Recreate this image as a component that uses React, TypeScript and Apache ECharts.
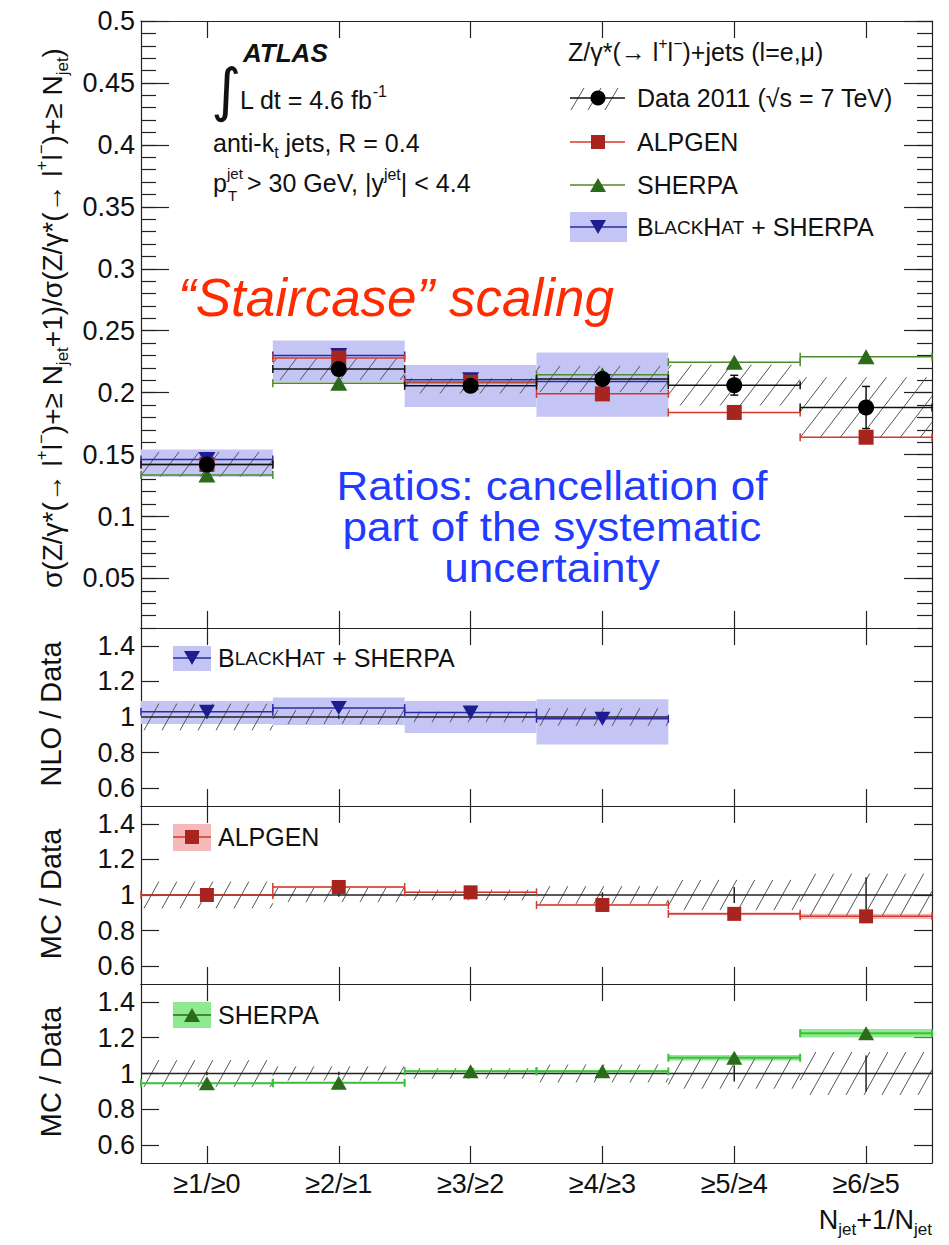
import React, { useEffect, useRef } from "react";
import * as echarts from "echarts";

// ---------------- data ----------------
const bins = ["≥1/≥0", "≥2/≥1", "≥3/≥2", "≥4/≥3", "≥5/≥4", "≥6/≥5"];

// main panel: cross-section ratios
const dataVal = [0.142, 0.219, 0.2055, 0.211, 0.206, 0.188];
const dataStatErr = [0.002, 0.002, 0.002, 0.003, 0.008, 0.017];
const dataSystRel = [0.07, 0.04, 0.03, 0.05, 0.08, 0.13];
const alpgenVal = [0.142, 0.228, 0.2085, 0.199, 0.184, 0.164];
const sherpaVal = [0.1335, 0.2075, 0.208, 0.2145, 0.2245, 0.229];
const blackhatVal = [0.146, 0.23, 0.2105, 0.209];
const blackhatLo = [0.132, 0.2086, 0.1884, 0.1806];
const blackhatHi = [0.154, 0.242, 0.2223, 0.2323];

// ratio panels
const nloRatio = [1.03, 1.05, 1.025, 0.99];
const nloRatioLo = [0.96, 0.955, 0.91, 0.845];
const nloRatioHi = [1.09, 1.11, 1.09, 1.1];
const alpgenRatio = [1.0, 1.045, 1.015, 0.944, 0.894, 0.88];
const alpgenRatioErr = [0.004, 0.004, 0.004, 0.005, 0.008, 0.015];
const sherpaRatio = [0.945, 0.948, 1.013, 1.012, 1.088, 1.225];
const sherpaRatioErr = [0.004, 0.004, 0.005, 0.006, 0.016, 0.024];
const dataRatioSyst = [0.075, 0.04, 0.03, 0.05, 0.085, 0.12];
const dataRatioStat = [0.01, 0.01, 0.012, 0.015, 0.045, 0.1];

// tick labels
const mainTicks = [0.05, 0.1, 0.15, 0.2, 0.25, 0.3, 0.35, 0.4, 0.45, 0.5];
const ratioTicks = [0.6, 0.8, 1, 1.2, 1.4];

// ---------------- style ----------------
const FONT = "'Liberation Sans', Arial, Helvetica, sans-serif";
const AX = "#222";
const TXT = "#111";
const BAND_BLUE = "#c5c5f5";
const BH_LINE = "#2a2aa6";
const BH_MARK = "#1d1d8f";
const AL_LINE = "#d33a2c";
const AL_MARK = "#a8251f";
const AL_BAND = "#f5b9b9";
const SH_LINE_MAIN = "#4d8a2e";
const SH_LINE_RATIO = "#3cc03c";
const SH_MARK = "#2b6b1b";
const SH_BAND = "#8fe98f";
const HATCH = "#555";

const grids = [
  { left: 141, top: 21, width: 791, height: 607 },
  { left: 141, top: 628, width: 791, height: 178 },
  { left: 141, top: 806, width: 791, height: 178 },
  { left: 141, top: 984, width: 791, height: 179 },
];

const fmt = (v: number) => String(parseFloat(Number(v).toFixed(3)));

function minorTicks(): number[] {
  const out: number[] = [];
  for (let k = 1; k <= 50; k++) out.push(parseFloat((k * 0.01).toFixed(2)));
  return out;
}

// ---------- custom renderers ----------
function hLineRender(color: string, width: number, caps: number) {
  return (_p: any, api: any) => {
    const i = api.value(0);
    const v = api.value(1);
    const c = api.coord([i, v]);
    const w = api.size([1, 0])[0];
    const x0 = c[0] - w / 2;
    const x1 = c[0] + w / 2;
    const st = { stroke: color, lineWidth: width };
    const children: any[] = [
      { type: "line", shape: { x1: x0, y1: c[1], x2: x1, y2: c[1] }, style: st },
    ];
    if (caps > 0) {
      children.push({ type: "line", shape: { x1: x0, y1: c[1] - caps, x2: x0, y2: c[1] + caps }, style: st });
      children.push({ type: "line", shape: { x1: x1, y1: c[1] - caps, x2: x1, y2: c[1] + caps }, style: st });
    }
    return { type: "group", children };
  };
}

function bandRender(fill: string) {
  return (_p: any, api: any) => {
    const i = api.value(0);
    const a = api.coord([i, api.value(2)]);
    const b = api.coord([i, api.value(1)]);
    const w = api.size([1, 0])[0];
    return {
      type: "rect",
      shape: { x: a[0] - w / 2, y: a[1], width: w, height: b[1] - a[1] },
      style: { fill },
    };
  };
}

function hatchRender(step: number, k: number) {
  return (_p: any, api: any) => {
    const i = api.value(0);
    const top = api.coord([i, api.value(2)]);
    const bot = api.coord([i, api.value(1)]);
    const w = api.size([1, 0])[0];
    const x0 = top[0] - w / 2;
    const x1 = top[0] + w / 2;
    const y0 = top[1];
    const y1 = bot[1];
    const h = y1 - y0;
    const children: any[] = [];
    const start = Math.ceil((x0 - h / k) / step) * step;
    for (let xc = start; xc <= x1; xc += step) {
      const ya = Math.max(y0, y1 - k * (x1 - xc));
      const yb = Math.min(y1, y1 - k * (x0 - xc));
      if (yb - ya > 0.5) {
        children.push({
          type: "line",
          shape: { x1: xc + (y1 - ya) / k, y1: ya, x2: xc + (y1 - yb) / k, y2: yb },
          style: { stroke: HATCH, lineWidth: 1 },
        });
      }
    }
    return { type: "group", children };
  };
}

function vBarRender(color: string, caps: number) {
  return (_p: any, api: any) => {
    const i = api.value(0);
    const v = api.value(1);
    const e = api.value(2);
    const a = api.coord([i, v + e]);
    const b = api.coord([i, v - e]);
    const st = { stroke: color, lineWidth: 1.5 };
    const children: any[] = [{ type: "line", shape: { x1: a[0], y1: a[1], x2: b[0], y2: b[1] }, style: st }];
    if (caps > 0) {
      children.push({ type: "line", shape: { x1: a[0] - caps, y1: a[1], x2: a[0] + caps, y2: a[1] }, style: st });
      children.push({ type: "line", shape: { x1: b[0] - caps, y1: b[1], x2: b[0] + caps, y2: b[1] }, style: st });
    }
    return { type: "group", children };
  };
}

const onGrid = (g: number) => ({ xAxisIndex: 2 * g, yAxisIndex: 2 * g });

function hline(g: number, vals: number[], color: string, width: number, caps: number, z: number) {
  return { type: "custom", ...onGrid(g), z, data: vals.map((v, i) => [i, v]), renderItem: hLineRender(color, width, caps) };
}
function band(g: number, lo: number[], hi: number[], fill: string, z: number) {
  return { type: "custom", ...onGrid(g), z, data: lo.map((l, i) => [i, l, hi[i]]), renderItem: bandRender(fill) };
}
function hatch(g: number, lo: number[], hi: number[], z: number, k = 1.4, step = 20) {
  return { type: "custom", ...onGrid(g), z, data: lo.map((l, i) => [i, l, hi[i]]), renderItem: hatchRender(step, k) };
}
function vbar(g: number, vals: number[], errs: number[], color: string, caps: number, z: number) {
  return { type: "custom", ...onGrid(g), z, data: vals.map((v, i) => [i, v, errs[i]]), renderItem: vBarRender(color, caps) };
}
function markers(g: number, vals: number[], symbol: string, size: any, color: string, z: number, rotate = 0) {
  return {
    type: "scatter",
    ...onGrid(g),
    z,
    symbol,
    symbolSize: size,
    symbolRotate: rotate,
    itemStyle: { color, opacity: 1 },
    data: vals.map((v, i) => [i, v]),
  };
}

// ---------- rich text helpers ----------
function rich(size: number, color = TXT) {
  const s = Math.round(size * 0.62);
  return {
    n: { fontSize: size, fontFamily: FONT, fill: color, color, lineHeight: Math.round(size * 1.35) },
    s: { fontSize: Math.round(size * 0.76), fontFamily: FONT, fill: color, color, lineHeight: Math.round(size * 1.35) },
    sup: { fontSize: s, fontFamily: FONT, fill: color, color, verticalAlign: "top", lineHeight: s },
    sub: { fontSize: s, fontFamily: FONT, fill: color, color, verticalAlign: "bottom", lineHeight: s },
  };
}

function text(x: number, y: number, txt: string, size: number, extra: any = {}, el: any = {}) {
  return {
    type: "text",
    x,
    y,
    z: 100,
    ...el,
    style: {
      text: txt,
      fontSize: size,
      fontFamily: FONT,
      fill: TXT,
      align: "left",
      verticalAlign: "middle",
      textAlign: "left",
      textVerticalAlign: "middle",
      ...extra,
    },
  };
}

function richText(x: number, y: number, txt: string, size: number, align = "left", el: any = {}, color = TXT) {
  return {
    type: "text",
    x,
    y,
    z: 100,
    ...el,
    style: {
      text: txt,
      rich: rich(size, color),
      fontSize: size,
      fontFamily: FONT,
      fill: color,
      align,
      verticalAlign: "middle",
      textAlign: align,
      textVerticalAlign: "middle",
    },
  };
}

const lineEl = (x1: number, y1: number, x2: number, y2: number, stroke: string, lineWidth = 1.5) => ({
  type: "line",
  z: 100,
  shape: { x1, y1, x2, y2 },
  style: { stroke, lineWidth },
});
const rectEl = (x: number, y: number, w: number, h: number, fill: string) => ({
  type: "rect",
  z: 99,
  shape: { x, y, width: w, height: h },
  style: { fill },
});
const triEl = (cx: number, cy: number, fill: string, down = false) => ({
  type: "polygon",
  z: 101,
  shape: {
    points: down
      ? [[cx - 8, cy - 7], [cx + 8, cy - 7], [cx, cy + 7]]
      : [[cx - 8, cy + 7], [cx + 8, cy + 7], [cx, cy - 7]],
  },
  style: { fill },
});

const BH_TEXT = "{n|B}{s|LACK}{n|H}{s|AT}{n| + SHERPA}";

function buildOption(): any {
  const xAxis: any[] = [];
  const yAxis: any[] = [];
  grids.forEach((_, g) => {
    const base = {
      type: "category",
      gridIndex: g,
      data: bins,
      boundaryGap: true,
      axisLine: { show: true, onZero: false, lineStyle: { color: AX, width: 1.2 } },
      axisTick: { show: true, inside: true, alignWithLabel: true, length: 17, lineStyle: { color: AX, width: 1.2 } },
      splitLine: { show: false },
    };
    xAxis.push({
      ...base,
      position: "bottom",
      axisLabel:
        g === 3
          ? { show: true, margin: 7, fontSize: 27, color: TXT, fontFamily: FONT }
          : { show: false },
    });
    xAxis.push({ ...base, position: "top", axisLabel: { show: false } });
  });

  const lab = { margin: 6, fontSize: 27, color: TXT, fontFamily: FONT, formatter: fmt };
  grids.forEach((_, g) => {
    const isMain = g === 0;
    const ticks = isMain ? mainTicks : ratioTicks;
    const base = {
      type: "value",
      gridIndex: g,
      min: isMain ? 0.01 : 0.5,
      max: isMain ? 0.5 : 1.5,
      axisLine: { show: true, lineStyle: { color: AX, width: 1.2 } },
      axisTick: { show: true, inside: true, length: isMain ? 28 : 18, customValues: ticks, lineStyle: { color: AX, width: 1.2 } },
      splitLine: { show: false },
    };
    yAxis.push({ ...base, position: "left", axisLabel: { show: true, customValues: ticks, ...lab } });
    yAxis.push({ ...base, position: "right", axisLabel: { show: false } });
  });
  const minor = minorTicks();
  ["left", "right"].forEach((pos) => {
    yAxis.push({
      type: "value",
      gridIndex: 0,
      min: 0.01,
      max: 0.5,
      position: pos,
      axisLine: { show: false },
      axisTick: { show: true, inside: true, length: 15, customValues: minor, lineStyle: { color: AX, width: 1.2 } },
      axisLabel: { show: false },
      splitLine: { show: false },
    });
  });

  const idx4 = [0, 1, 2, 3];
  const ones = bins.map(() => 1);

  const series: any[] = [
    // main panel
    band(0, blackhatLo, blackhatHi, BAND_BLUE, 1),
    hatch(0, dataVal.map((v, i) => v * (1 - dataSystRel[i])), dataVal.map((v, i) => v * (1 + dataSystRel[i])), 2, 1.3, 20),
    hline(0, blackhatVal, BH_LINE, 1.5, 4, 3),
    hline(0, sherpaVal, SH_LINE_MAIN, 1.5, 4, 3),
    hline(0, alpgenVal, AL_LINE, 1.5, 4, 3),
    hline(0, dataVal, "#111", 1.5, 4, 3),
    vbar(0, dataVal, dataStatErr, "#111", 4, 3),
    markers(0, blackhatVal, "triangle", [17, 15], BH_MARK, 4, 180),
    markers(0, alpgenVal, "rect", 15, AL_MARK, 5),
    markers(0, sherpaVal, "triangle", [17, 15], SH_MARK, 6),
    markers(0, dataVal, "circle", 16, "#000", 7),

    // NLO / Data
    band(1, nloRatioLo, nloRatioHi, BAND_BLUE, 1),
    hatch(1, idx4.map((i) => 1 - dataRatioSyst[i]), idx4.map((i) => 1 + dataRatioSyst[i]), 2, 1.8, 18),
    hline(1, idx4.map((i) => ones[i]), "#222", 1.3, 0, 3),
    hline(1, nloRatio, BH_LINE, 1.5, 4, 3),
    vbar(1, idx4.map((i) => ones[i]), idx4.map((i) => dataRatioStat[i]), "#222", 0, 3),
    markers(1, nloRatio, "triangle", [16, 14], BH_MARK, 5, 180),

    // ALPGEN / Data
    band(2, alpgenRatio.map((v, i) => v - alpgenRatioErr[i]), alpgenRatio.map((v, i) => v + alpgenRatioErr[i]), AL_BAND, 1),
    hatch(2, dataRatioSyst.map((e) => 1 - e), dataRatioSyst.map((e) => 1 + e), 2, 1.8, 18),
    hline(2, ones, "#222", 1.3, 0, 3),
    hline(2, alpgenRatio, AL_LINE, 1.5, 4, 3),
    vbar(2, ones, dataRatioStat, "#222", 0, 3),
    markers(2, alpgenRatio, "rect", 14, AL_MARK, 5),

    // SHERPA / Data
    band(3, sherpaRatio.map((v, i) => v - sherpaRatioErr[i]), sherpaRatio.map((v, i) => v + sherpaRatioErr[i]), SH_BAND, 1),
    hatch(3, dataRatioSyst.map((e) => 1 - e), dataRatioSyst.map((e) => 1 + e), 2, 1.8, 18),
    hline(3, ones, "#222", 1.3, 0, 3),
    hline(3, sherpaRatio, SH_LINE_RATIO, 2, 4, 3),
    vbar(3, ones, dataRatioStat, "#222", 0, 3),
    markers(3, sherpaRatio, "triangle", [16, 14], SH_MARK, 5),
  ];

  const graphic: any[] = [
    // y-axis titles
    richText(
      52,
      318,
      "{n|σ(Z/γ*(→ l}{sup|+}{n|l}{sup|−}{n|)+≥ N}{sub|jet}{n|+1)/σ(Z/γ*(→ l}{sup|+}{n|l}{sup|−}{n|)+≥ N}{sub|jet}{n|)}",
      28,
      "center",
      { rotation: Math.PI / 2 }
    ),
    text(51, 714, "NLO / Data", 29, { align: "center", textAlign: "center" }, { rotation: Math.PI / 2 }),
    text(51, 894, "MC / Data", 29, { align: "center", textAlign: "center" }, { rotation: Math.PI / 2 }),
    text(51, 1072, "MC / Data", 29, { align: "center", textAlign: "center" }, { rotation: Math.PI / 2 }),

    // x-axis title
    richText(932, 1220, "{n|N}{sub|jet}{n|+1/N}{sub|jet}", 27, "right"),

    // ATLAS block
    text(243, 53, "ATLAS", 26, { fontWeight: "bold", fontStyle: "italic" }),
    text(211, 90, "∫", 58, { fontFamily: "'DejaVu Sans', sans-serif" }),
    richText(240, 100, "{n|L dt = 4.6 fb}{sup|-1}", 25),
    richText(213, 143, "{n|anti-k}{sub|t}{n| jets, R = 0.4}", 25),
    text(213, 183, "p", 25),
    text(227, 173, "jet", 15),
    text(228, 195, "T", 15),
    richText(247, 183, "{n|> 30 GeV, |y}{sup|jet}{n|| < 4.4}", 25),

    // main legend
    richText(568, 52, "{n|Z/γ*(→ l}{sup|+}{n|l}{sup|−}{n|)+jets (l=e,μ)}", 25),
    // data entry
    lineEl(571, 110, 584, 88, HATCH, 1),
    lineEl(588, 110, 601, 88, HATCH, 1),
    lineEl(605, 110, 618, 88, HATCH, 1),
    lineEl(570, 98, 625, 98, "#111", 1.5),
    { type: "circle", z: 101, shape: { cx: 598, cy: 98, r: 7.5 }, style: { fill: "#000" } },
    text(637, 98, "Data 2011 (√s = 7 TeV)", 25),
    // alpgen
    lineEl(570, 142, 625, 142, AL_LINE, 1.5),
    { type: "rect", z: 101, shape: { x: 591, y: 135, width: 14, height: 14 }, style: { fill: AL_MARK } },
    text(637, 142, "ALPGEN", 25),
    // sherpa
    lineEl(570, 185, 625, 185, SH_LINE_MAIN, 1.5),
    triEl(598, 185, SH_MARK),
    text(637, 185, "SHERPA", 25),
    // blackhat
    rectEl(570, 212, 57, 30, BAND_BLUE),
    lineEl(570, 227, 627, 227, BH_LINE, 1.5),
    triEl(598, 227, BH_MARK, true),
    richText(637, 227, BH_TEXT, 25),

    // annotations
    text(178, 297, "“Staircase” scaling", 53, { fontStyle: "italic", fill: "#ff2a00" }),
    text(
      552,
      527,
      "Ratios: cancellation of\npart of the systematic\nuncertainty",
      38,
      { fill: "#1f3bff", align: "center", textAlign: "center", lineHeight: 39 },
      { scaleX: 1.16, scaleY: 1.05 }
    ),

    // ratio legends
    rectEl(173, 646, 38, 25, BAND_BLUE),
    lineEl(173, 658, 211, 658, BH_LINE, 1.5),
    triEl(192, 658, BH_MARK, true),
    richText(218, 658, BH_TEXT, 25),

    rectEl(173, 824, 38, 27, AL_BAND),
    lineEl(173, 837, 211, 837, AL_LINE, 1.5),
    { type: "rect", z: 101, shape: { x: 185, y: 830, width: 14, height: 14 }, style: { fill: AL_MARK } },
    text(218, 837, "ALPGEN", 25),

    rectEl(173, 1002, 38, 26, SH_BAND),
    lineEl(173, 1015, 211, 1015, SH_MARK, 1.5),
    triEl(192, 1015, SH_MARK),
    text(218, 1015, "SHERPA", 25),
  ];

  return {
    animation: false,
    backgroundColor: "#ffffff",
    grid: grids.map((g) => ({ ...g, containLabel: false })),
    xAxis,
    yAxis,
    series,
    graphic,
  };
}

export default function App() {
  const ref = useRef<HTMLDivElement>(null);
  useEffect(() => {
    if (!ref.current) return;
    const chart = echarts.init(ref.current, null, { renderer: "svg" });
    chart.setOption(buildOption());
    return () => chart.dispose();
  }, []);
  return (
    <div
      ref={ref}
      style={{ position: "fixed", left: 0, top: 0, width: 949, height: 1245, background: "#fff" }}
    />
  );
}
